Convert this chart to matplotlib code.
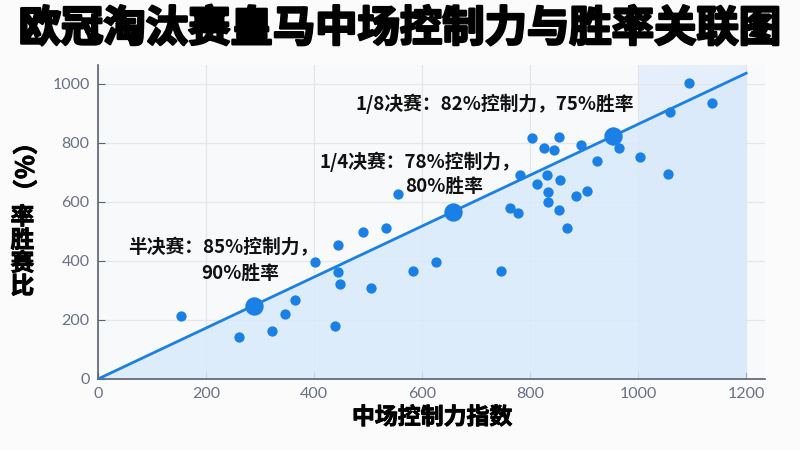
import matplotlib
matplotlib.use("Agg")
import matplotlib.pyplot as plt
import matplotlib.patheffects as pe
import numpy as np

plt.rcParams['font.family'] = ['Noto Sans CJK SC', 'DejaVu Sans']

title = "欧冠淘汰赛皇马中场控制力与胜率关联图"
xlabel = "中场控制力指数"
x_ticks = [0, 200, 400, 600, 800, 1000, 1200]
y_ticks = [0, 200, 400, 600, 800, 1000]

# scatter (midfield control index, win ratio)
pts_x = [153, 261, 323, 346, 364, 439, 401, 445, 445, 448, 491, 505, 534, 556, 583, 625,
         746, 763, 778, 782, 803, 812, 825, 831, 833, 833, 845, 853, 856, 854, 869, 885,
         894, 906, 924, 965, 1004, 1056, 1059, 1094, 1137]
pts_y = [213, 143, 164, 219, 267, 180, 397, 454, 363, 322, 498, 307, 510, 626, 367, 398,
         366, 581, 564, 692, 815, 660, 783, 692, 633, 601, 776, 821, 673, 573, 513, 621,
         794, 637, 737, 783, 753, 696, 903, 1004, 934]

# highlighted matches
key_x = [288, 658, 954]
key_y = [248, 565, 822]
key_names = ["半决赛：", "1/4决赛：", "1/8决赛："]
key_stats1 = ["85%控制力，", "78%控制力，", "82%控制力，75%胜率"]
key_stats2 = ["90%胜率", "80%胜率", ""]

trend_x = [0, 1200]
trend_y = [0, 1036]

blue = '#1a80e5'

fig = plt.figure(figsize=(8, 4.5), dpi=100)
fig.patch.set_facecolor('#fbfbfb')
ax = fig.add_axes([0.1225, 0.1578, 0.8338, 0.6978])
ax.set_facecolor('#f8f9fb')
ax.set_xlim(0, 1235)
ax.set_ylim(0, 1064)

ax.axvspan(1000, 1200, color='#e4effb', zorder=0, lw=0)
ax.fill_between(trend_x, [0, 0], trend_y, color='#d9eafb', alpha=0.85, zorder=1, lw=0)

ax.set_xticks(x_ticks)
ax.set_yticks(y_ticks)
ax.grid(True, color='#e4e6ea', lw=0.9, zorder=0.5)
ax.set_axisbelow(True)

ax.plot(trend_x, trend_y, color=blue, lw=2.0, zorder=3)
ax.scatter(pts_x, pts_y, s=55, color=blue, zorder=4, lw=0)
ax.scatter(key_x, key_y, s=175, color=blue, zorder=5, lw=0)

for s in ['top', 'right']:
    ax.spines[s].set_visible(False)
for s in ['left', 'bottom']:
    ax.spines[s].set_color('#5b6172')
    ax.spines[s].set_linewidth(1.2)
ax.tick_params(direction='in', length=5, color='#5b6172', labelcolor='#6a7184',
               labelsize=11.5, pad=6)
for lab in ax.get_xticklabels() + ax.get_yticklabels():
    lab.set_fontfamily(['Lato', 'DejaVu Sans'])

# annotations
fs = 13.5
kw = dict(fontsize=fs, fontweight='bold', va='center', ha='left', zorder=6, color='#111111')
ax.text(56, 444, key_names[0] + key_stats1[0], **kw)
ax.text(192, 359, key_stats2[0], **kw)
ax.text(411, 736, key_names[1] + key_stats1[1], **kw)
ax.text(568, 654, key_stats2[1], **kw)
ax.text(476, 932, key_names[2] + key_stats1[2], **kw)

# title
fig.text(0.5, 0.935, title, fontsize=30.5, fontweight='bold', ha='center', va='center',
         color='black', path_effects=[pe.withStroke(linewidth=1.8, foreground='black')])

fig.text(0.54, 0.072, xlabel, fontsize=16.5, fontweight='bold', ha='center', va='center',
         path_effects=[pe.withStroke(linewidth=0.7, foreground='black')])

# vertical y label
fig.text(0.028, 1 - 167 / 450, "（%）", fontsize=18, fontweight='bold', rotation=-90,
         ha='center', va='center',
         path_effects=[pe.withStroke(linewidth=0.6, foreground='black')])
fig.text(0.028, 1 - 252 / 450, "率\n胜\n赛\n比", fontsize=17, fontweight='bold',
         ha='center', va='center', linespacing=0.95,
         path_effects=[pe.withStroke(linewidth=0.7, foreground='black')])

fig.savefig('out.png', dpi=100, facecolor=fig.get_facecolor())
